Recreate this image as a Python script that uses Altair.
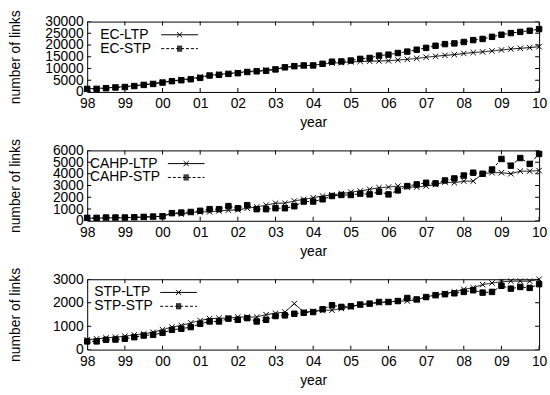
import altair as alt
import pandas as pd

# quarterly sample positions, 1998.00 ... 2010.00
quarters = [1998 + 0.25 * i for i in range(49)]

ec_ltp = [1400, 1500, 1700, 2000, 2300, 2700, 3100, 3600,
          4200, 4700, 5200, 5700, 6400, 7100, 7500, 7900,
          8300, 8700, 9000, 9300, 9700, 10500, 10900, 11200,
          11400, 11900, 12300, 12500, 12800, 13000, 13100, 13200,
          13300, 13600, 13900, 14300, 14800, 15200, 15600, 15900,
          16400, 16800, 17100, 17500, 17900, 18300, 18600, 18900,
          19300]
ec_stp = [1300, 1300, 1600, 1900, 2100, 2500, 3000, 3400,
          4000, 4600, 5000, 5400, 6000, 7000, 7300, 7700,
          8000, 8500, 8800, 9000, 9600, 10500, 11000, 11300,
          11300, 12000, 12900, 13000, 13400, 14100, 14500, 15500,
          15900, 16600, 17200, 18000, 18800, 19700, 20400, 20700,
          21300, 22100, 22600, 23500, 24400, 25100, 25600, 26100,
          26800]
cahp_ltp = [200, 220, 240, 250, 260, 280, 310, 340,
            380, 650, 570, 700, 760, 760, 845, 900,
            930, 1070, 1180, 1330, 1500, 1500, 1690, 1830,
            1970, 2110, 2200, 2310, 2450, 2540, 2680, 2820,
            2870, 2960, 2870, 2870, 2960, 3100, 3300, 3240,
            3380, 3380, 4010, 4100, 4100, 4010, 4230, 4230,
            4280]
cahp_stp = [250, 250, 280, 280, 280, 300, 330, 360,
            380, 650, 700, 750, 850, 990, 990, 1250,
            1070, 1330, 990, 990, 1070, 1070, 1240, 1640,
            1640, 1830, 2110, 2200, 2200, 2310, 2250, 2480,
            2250, 2590, 2960, 3100, 3240, 3190, 3440, 3610,
            3860, 4100, 4010, 4370, 5270, 4700, 5350, 4850,
            5700]
stp_ltp = [420, 460, 500, 530, 570, 630, 670, 740,
           850, 960, 1030, 1140, 1240, 1320, 1340, 1340,
           1390, 1390, 1390, 1490, 1550, 1600, 1960, 1600,
           1630, 1680, 1680, 1750, 1820, 1920, 1960, 2000,
           2030, 2070, 2070, 2130, 2240, 2340, 2400, 2460,
           2570, 2640, 2770, 2840, 2890, 2920, 2920, 2920,
           3000]
stp_stp = [350, 350, 420, 430, 460, 530, 600, 630,
           715, 845, 890, 960, 1100, 1200, 1200, 1320,
           1270, 1340, 1200, 1270, 1430, 1460, 1530, 1570,
           1600, 1720, 1890, 1820, 1850, 1920, 1960, 2030,
           2030, 2070, 2200, 2140, 2240, 2320, 2360, 2400,
           2460, 2530, 2430, 2460, 2720, 2600, 2670, 2630,
           2790]

year_ticks = list(range(1998, 2011))
ec_yticks = [0, 5000, 10000, 15000, 20000, 25000, 30000]
cahp_yticks = [0, 1000, 2000, 3000, 4000, 5000, 6000]
stp_yticks = [0, 1000, 2000, 3000]

FONT = "Liberation Sans"
W, H = 456, 71

CROSS = "M-1,-1L1,1M-1,1L1,-1"
MK = 2.6
KEY_LEN = 37


def dashes(x0, x1, dash=3.0, gap=2.0):
    out, x = [], x0
    while x < x1:
        e = min(x + dash, x1)
        out.append(f"M{x:.2f},0H{e:.2f}")
        x = e + gap
    return "".join(out)


def key_paths(a):
    """legend key samples drawn as strokes; symbol size 4 -> units ~ pixels"""
    b = a + KEY_LEN
    c = (a + b) / 2
    ltp = (f"M{a},0H{b}M{c-MK},{-MK}L{c+MK},{MK}"
           f"M{c-MK},{MK}L{c+MK},{-MK}")
    sq = "".join(f"M{c-MK:.2f},{yy:.2f}H{c+MK:.2f}"
                 for yy in [-2.5, -1.5, -0.5, 0.5, 1.5, 2.5])
    stp = dashes(a, b) + sq
    return ltp, stp


def panel(name, ltp, stp, ydom, yticks, legx, keya):
    n1, n2 = f"{name}-LTP", f"{name}-STP"
    df = pd.DataFrame({
        "year": quarters + quarters,
        "links": ltp + stp,
        "series": [n1] * len(ltp) + [n2] * len(stp),
    })
    xscale = alt.Scale(domain=[1998, 2010], nice=False, zero=False)
    yscale = alt.Scale(domain=ydom, nice=False, zero=False)
    xaxis = alt.Axis(
        values=year_ticks, title="year", labelOverlap=False, labelFlush=False,
        labelExpr="(datum.value % 100 < 10 ? '0' : '') + (datum.value % 100)",
        labelPadding=5, titlePadding=5)
    yaxis = alt.Axis(
        values=yticks, title="number of links", labelPadding=4, format="d",
        labelOverlap=False, labelFlush=False,
        titleX=-72, titleY=H / 2, titleAngle=-90, titleAlign="center",
        titleBaseline="middle")
    x = alt.X("year:Q", scale=xscale, axis=xaxis)
    y = alt.Y("links:Q", scale=yscale, axis=yaxis)

    lines = alt.Chart(df).mark_line(color="black", strokeWidth=1).encode(
        x=x, y=y, detail="series:N",
        strokeDash=alt.StrokeDash("series:N", scale=alt.Scale(
            domain=[n1, n2], range=[[1, 0], [3, 2]]), legend=None))

    pts = alt.Chart(df).mark_point(
        filled=True, fill="black", stroke="black", strokeWidth=1,
        opacity=1, size=30).encode(
        x=x, y=y,
        shape=alt.Shape("series:N", scale=alt.Scale(
            domain=[n1, n2], range=[CROSS, "square"]), legend=None))

    kl, ks = key_paths(keya)
    key = alt.Chart(df).transform_filter("false").mark_point(
        filled=False, stroke="black", strokeWidth=1,
        opacity=1, size=4).encode(
        x=x, y=y,
        shape=alt.Shape("series:N", scale=alt.Scale(
            domain=[n1, n2], range=[kl, ks]),
            legend=alt.Legend(
                title=None, orient="none", legendX=legx, legendY=6.3,
                symbolSize=4, rowPadding=-3.5,
                labelAlign="left", labelOffset=2, labelFont=FONT,
                labelFontSize=14, labelColor="black", labelLimit=0,
                symbolStrokeColor="black", symbolStrokeWidth=1,
                symbolOpacity=1, padding=0)))

    xt = pd.DataFrame({"year": year_ticks})
    yt = pd.DataFrame({"links": yticks})
    tk = dict(thickness=1, color="black", clip=True, size=8, opacity=1)
    yd = lambda v: alt.YDatum(v, type="quantitative", scale=yscale, axis=yaxis)
    xd = lambda v: alt.XDatum(v, type="quantitative", scale=xscale, axis=xaxis)
    t_bottom = alt.Chart(xt).mark_tick(orient="vertical", **tk).encode(
        x=x, y=yd(ydom[0]))
    t_top = alt.Chart(xt).mark_tick(orient="vertical", **tk).encode(
        x=x, y=yd(ydom[1]))
    t_left = alt.Chart(yt).mark_tick(orient="horizontal", **tk).encode(
        y=y, x=xd(1998))
    t_right = alt.Chart(yt).mark_tick(orient="horizontal", **tk).encode(
        y=y, x=xd(2010))

    return alt.layer(lines, pts, key, t_bottom, t_top, t_left, t_right
                     ).resolve_scale(shape="independent").properties(
        width=W, height=H)


p1 = panel("EC", ec_ltp, ec_stp, [0, 30000], ec_yticks, -2.9, 70.6)
p2 = panel("CAHP", cahp_ltp, cahp_stp, [0, 6000], cahp_yticks, -13.3, 87.7)
p3 = panel("STP", stp_ltp, stp_stp, [0, 3000], stp_yticks, -8.9, 75.6)

chart = alt.vconcat(p1, p2, p3, spacing=59, bounds="flush").properties(
    padding={"left": 8, "top": 7, "right": 2, "bottom": 2},
    background="white",
).configure_view(stroke="black", strokeWidth=1).configure_axis(
    domain=False, ticks=False, grid=False,
    labelFont=FONT, labelFontSize=14, labelColor="black",
    titleFont=FONT, titleFontSize=14, titleFontWeight="normal",
    titleColor="black",
).configure_legend(
    labelFont=FONT, labelFontSize=14, labelColor="black", labelLimit=0,
)

chart.save("out.html", embed_options={"renderer": "svg", "actions": False})
